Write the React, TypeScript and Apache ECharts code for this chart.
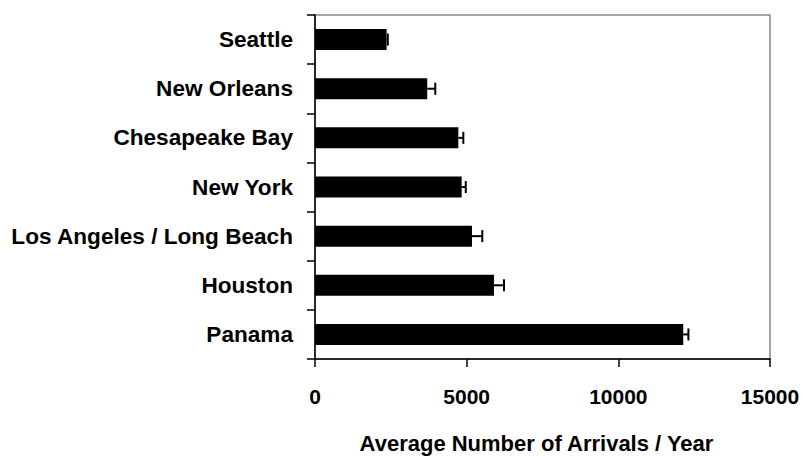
import React, { useEffect, useRef } from "react";
import * as echarts from "echarts";

const categories = [
  "Seattle",
  "New Orleans",
  "Chesapeake Bay",
  "New York",
  "Los Angeles / Long Beach",
  "Houston",
  "Panama",
];
const arrivals = [2360, 3700, 4725, 4835, 5175, 5900, 12140];
const errors = [40, 265, 165, 135, 340, 330, 170];
const xTicks = [0, 5000, 10000, 15000];

const FONT = "'Liberation Sans', Arial, sans-serif";

export default function App() {
  const ref = useRef<HTMLDivElement>(null);
  useEffect(() => {
    if (!ref.current) return;
    const chart = echarts.init(ref.current, undefined, { renderer: "svg" });
    const errData = arrivals.map((v, i) => [v + errors[i], i, v]);
    chart.setOption({
      animation: false,
      backgroundColor: "#fff",
      grid: {
        left: 315,
        top: 15,
        right: 33,
        bottom: 96,
        show: true,
        borderColor: "#888",
        borderWidth: 1.5,
      },
      xAxis: {
        type: "value",
        min: xTicks[0],
        max: xTicks[xTicks.length - 1],
        interval: 5000,
        name: "Average Number of Arrivals / Year",
        nameLocation: "middle",
        nameGap: 73,
        nameTextStyle: {
          fontFamily: FONT,
          fontWeight: "bold",
          fontSize: 22,
          color: "#000",
          padding: [0, 12, 0, 0],
        },
        axisLine: { show: true, lineStyle: { color: "#000", width: 1.5 } },
        axisTick: { show: true, length: 8, inside: false, lineStyle: { color: "#000", width: 1.5 } },
        splitLine: { show: false },
        axisLabel: {
          fontFamily: FONT,
          fontWeight: "bold",
          fontSize: 21,
          color: "#000",
          margin: 27,
          formatter: (v: number) => String(v),
        },
      },
      yAxis: {
        type: "category",
        data: categories,
        inverse: true,
        axisLine: { show: true, lineStyle: { color: "#000", width: 1.5 } },
        axisTick: { show: true, length: 8, lineStyle: { color: "#000", width: 1.5 } },
        axisLabel: {
          fontFamily: FONT,
          fontWeight: "bold",
          fontSize: 22.6,
          color: "#000",
          margin: 22,
        },
      },
      series: [
        {
          type: "bar",
          data: arrivals,
          barWidth: 21,
          itemStyle: { color: "#000" },
          z: 2,
        },
        {
          type: "custom",
          data: errData,
          encode: { x: 0, y: 1 },
          z: 3,
          renderItem: (params: any, api: any) => {
            const end = api.coord([api.value(0), api.value(1)]);
            const start = api.coord([api.value(2), api.value(1)]);
            const style = { stroke: "#000", lineWidth: 2 };
            return {
              type: "group",
              children: [
                {
                  type: "line",
                  shape: { x1: start[0], y1: start[1], x2: end[0], y2: end[1] },
                  style,
                },
                {
                  type: "line",
                  shape: { x1: end[0], y1: end[1] - 6, x2: end[0], y2: end[1] + 6 },
                  style,
                },
              ],
            };
          },
        },
      ],
    });
    return () => chart.dispose();
  }, []);
  return <div ref={ref} style={{ width: 803, height: 459, position: "absolute", left: 0, top: 0 }} />;
}
